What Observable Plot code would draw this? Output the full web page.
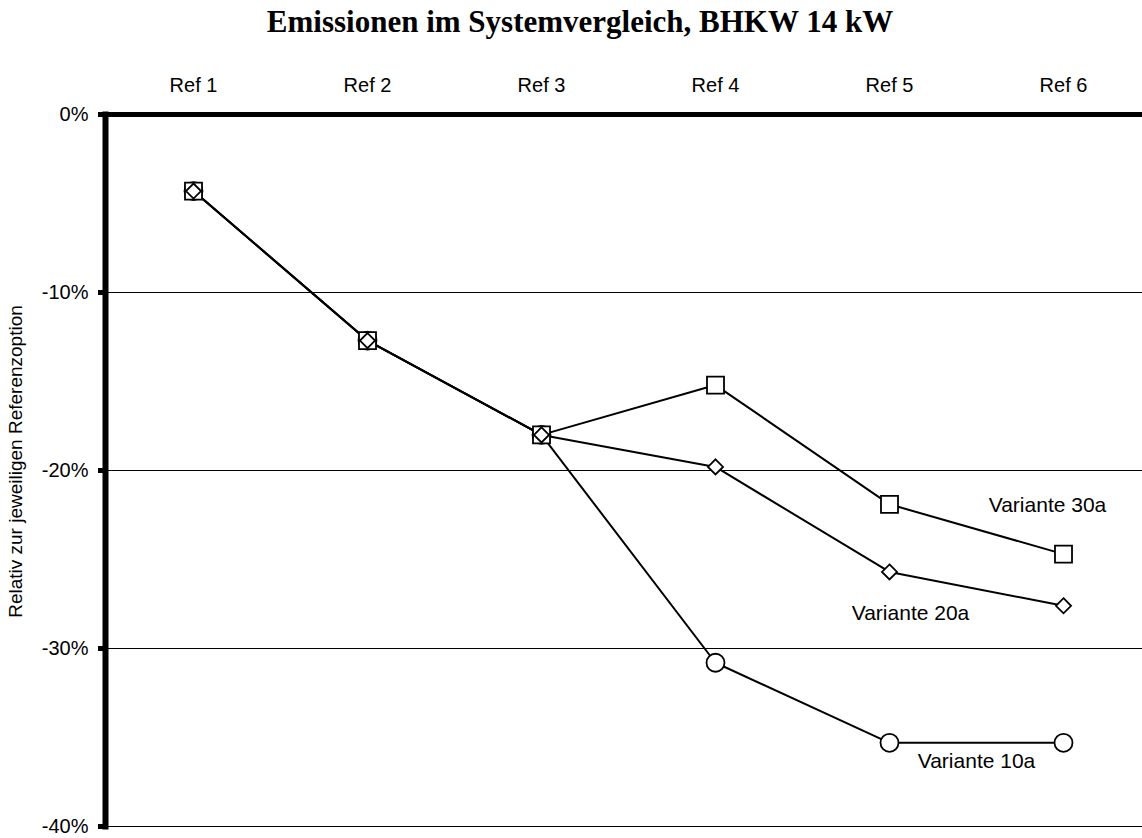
<!DOCTYPE html>
<html>
<head>
<meta charset="utf-8">
<script src="https://cdn.jsdelivr.net/npm/d3@7"></script>
<script src="https://cdn.jsdelivr.net/npm/@observablehq/plot@0.6"></script>
<style>
  body { margin: 0; background: #fff; }
  #title {
    height: 50px;
    box-sizing: border-box;
    padding-top: 4px;
    padding-left: 18px;
    line-height: 36px;
    text-align: center;
    font: bold 31px "Liberation Serif", "Times New Roman", serif;
    color: #000;
  }
</style>
</head>
<body>
<div id="title">Emissionen im Systemvergleich, BHKW 14 kW</div>
<div id="chart"></div>
<script>
// Reference options along the top axis
const refs = ["Ref 1", "Ref 2", "Ref 3", "Ref 4", "Ref 5", "Ref 6"];

// Emission change relative to the respective reference option (%)
const variante30a = [-4.3, -12.7, -18.0, -15.2, -21.9, -24.7];
const variante20a = [-4.3, -12.7, -18.0, -19.8, -25.7, -27.6];
const variante10a = [-4.3, -12.7, -18.0, -30.8, -35.3, -35.3];

const seriesNames = ["Variante 30a", "Variante 20a", "Variante 10a"];
const yTicks = [0, -10, -20, -30, -40];
const yLabel = "Relativ zur jeweiligen Referenzoption";

// Long-format table for the library
const seriesValues = [variante30a, variante20a, variante10a];
const rows = seriesNames.flatMap((name, s) =>
  refs.map((ref, i) => ({series: name, ref, value: seriesValues[s][i]}))
);
const bySeries = name => rows.filter(d => d.series === name);
const pointOf = (name, ref) => bySeries(name).filter(d => d.ref === ref);

const font = "'Liberation Sans', Arial, Helvetica, sans-serif";
const markerStyle = {x: "ref", y: "value", fill: "white", stroke: "black", strokeWidth: 1.8};
const labelStyle = {x: "ref", y: "value", text: "series", fontSize: 21};

const chart = Plot.plot({
  width: 1142,
  height: 788,
  marginTop: 64,
  marginBottom: 12,
  marginLeft: 105,
  marginRight: 0,
  style: {fontFamily: font, color: "black", background: "white", overflow: "visible"},
  x: {type: "band", domain: refs, range: [105, 1151], padding: 0},
  y: {domain: [-40, 0]},
  marks: [
    // horizontal gridlines
    Plot.ruleY(yTicks.filter(t => t !== 0), {stroke: "black", strokeWidth: 1}),
    // heavy 0% line and left axis line
    Plot.ruleY([0], {stroke: "black", strokeWidth: 5}),
    Plot.frame({anchor: "left", stroke: "black", strokeWidth: 6}),
    Plot.axisY(yTicks, {
      tickSize: 7, tickPadding: 10, strokeWidth: 5, fontSize: 20,
      tickFormat: d => d + "%", label: null
    }),
    Plot.axisX({anchor: "top", tickSize: 0, tickPadding: 23, fontSize: 20, label: null}),
    Plot.text([yLabel], {
      frameAnchor: "left", textAnchor: "middle", rotate: -90,
      dx: -90, dy: -9, fontSize: 19
    }),
    // series lines
    Plot.line(rows, {x: "ref", y: "value", z: "series", stroke: "black", strokeWidth: 2}),
    // markers: circles (10a), squares (30a), diamonds (20a)
    Plot.dot(bySeries("Variante 10a"), {...markerStyle, symbol: "circle", r: 9}),
    Plot.dot(bySeries("Variante 30a"), {...markerStyle, symbol: "square", r: 9.6}),
    Plot.dot(bySeries("Variante 20a"), {...markerStyle, symbol: "diamond2", r: 6.8}),
    // series labels placed next to their end points
    Plot.text(pointOf("Variante 30a", "Ref 6"), {...labelStyle, dx: -16, dy: -49}),
    Plot.text(pointOf("Variante 20a", "Ref 5"), {...labelStyle, dx: 21, dy: 41}),
    Plot.text(pointOf("Variante 10a", "Ref 5"), {...labelStyle, dx: 87, dy: 18})
  ]
});

document.getElementById("chart").appendChild(chart);
</script>
</body>
</html>
